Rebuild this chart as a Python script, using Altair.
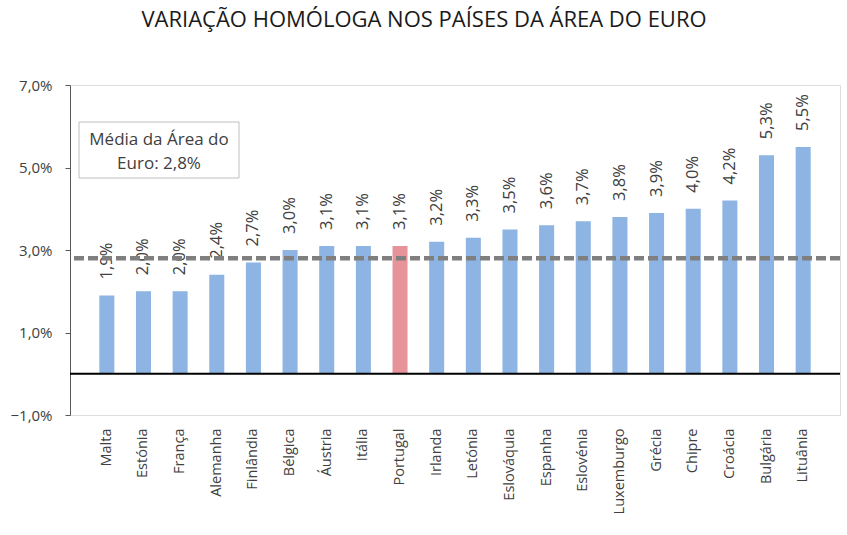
import altair as alt
import pandas as pd

countries = ["Malta", "Estónia", "França", "Alemanha", "Finlândia", "Bélgica", "Áustria",
             "Itália", "Portugal", "Irlanda", "Letónia", "Eslováquia", "Espanha", "Eslovénia",
             "Luxemburgo", "Grécia", "Chipre", "Croácia", "Bulgária", "Lituânia"]
values = [1.9, 2.0, 2.0, 2.4, 2.7, 3.0, 3.1, 3.1, 3.1, 3.2, 3.3, 3.5, 3.6, 3.7, 3.8,
          3.9, 4.0, 4.2, 5.3, 5.5]
highlight = "Portugal"
euro_avg = 2.8
y_ticks = [-1, 1, 3, 5, 7]

FONT = "Open Sans"
df = pd.DataFrame({"pais": countries, "valor": values})
df["label"] = df["valor"].map(lambda v: f"{v:.1f}".replace(".", ",") + "%")
df["hl"] = df["pais"].eq(highlight)

xenc = alt.X("pais:N", sort=countries,
             scale=alt.Scale(paddingInner=0.59, paddingOuter=0.8),
             axis=alt.Axis(title=None, labelAngle=-90, domain=False, ticks=False,
                           labelPadding=13, labelFontSize=14.5, labelFont=FONT,
                           labelColor="#404040"))
yscale = alt.Scale(domain=[-1, 7], nice=False, zero=False)

bars = alt.Chart(df).mark_bar().encode(
    x=xenc,
    y=alt.Y("valor:Q", scale=yscale,
            axis=alt.Axis(title=None, values=y_ticks, grid=False,
                          labelExpr="replace(format(datum.value, '.1f'), '.', ',') + '%'",
                          domainColor="#595959", tickColor="#595959", tickSize=5,
                          labelPadding=13, labelFontSize=15, labelFont=FONT,
                          labelColor="#404040")),
    y2=alt.datum(0),
    color=alt.Color("hl:N", scale=alt.Scale(domain=[False, True],
                                             range=["#8DB4E2", "#E6939A"]), legend=None),
)

labels = alt.Chart(df).mark_text(angle=270, align="left", baseline="middle", dx=16,
                                 fontSize=16.5, font=FONT, color="#404040").encode(
    x=alt.X("pais:N", sort=countries), y=alt.Y("valor:Q", scale=yscale), text="label:N")

zero = alt.Chart(pd.DataFrame({"y": [0]})).mark_rule(color="black", strokeWidth=2).encode(
    y=alt.Y("y:Q", scale=yscale))

avg = alt.Chart(pd.DataFrame({"y": [euro_avg]})).mark_rule(
    color="#7F7F7F", strokeWidth=4.5, strokeDash=[10, 4]).encode(y=alt.Y("y:Q", scale=yscale))

box = alt.Chart(pd.DataFrame({"a": [1]})).mark_rect(
    fill="white", stroke="#BFBFBF", strokeWidth=1).encode(
    x=alt.value(9), x2=alt.value(169), y=alt.value(37), y2=alt.value(93))

box_text = alt.Chart(pd.DataFrame({"t": [["Média da Área do", "Euro: 2,8%"]]})).mark_text(
    align="center", baseline="alphabetic", fontSize=17, font=FONT, color="#404040",
    lineHeight=24).encode(x=alt.value(89), y=alt.value(60), text="t")

chart = alt.layer(bars, labels, zero, avg, box, box_text).properties(
    width=770, height=330,
    autosize=alt.AutoSizeParams(type="none"),
    padding={"left": 70, "top": 85, "right": 7, "bottom": 120},
    title=alt.TitleParams("VARIAÇÃO HOMÓLOGA NOS PAÍSES DA ÁREA DO EURO",
                          fontSize=22, font=FONT, fontWeight="normal", color="#1A1A1A",
                          anchor="middle", dx=-31, offset=46),
).configure_view(stroke=None).configure(background="white")

chart.save("out.html", embed_options={"renderer": "svg", "actions": False})
